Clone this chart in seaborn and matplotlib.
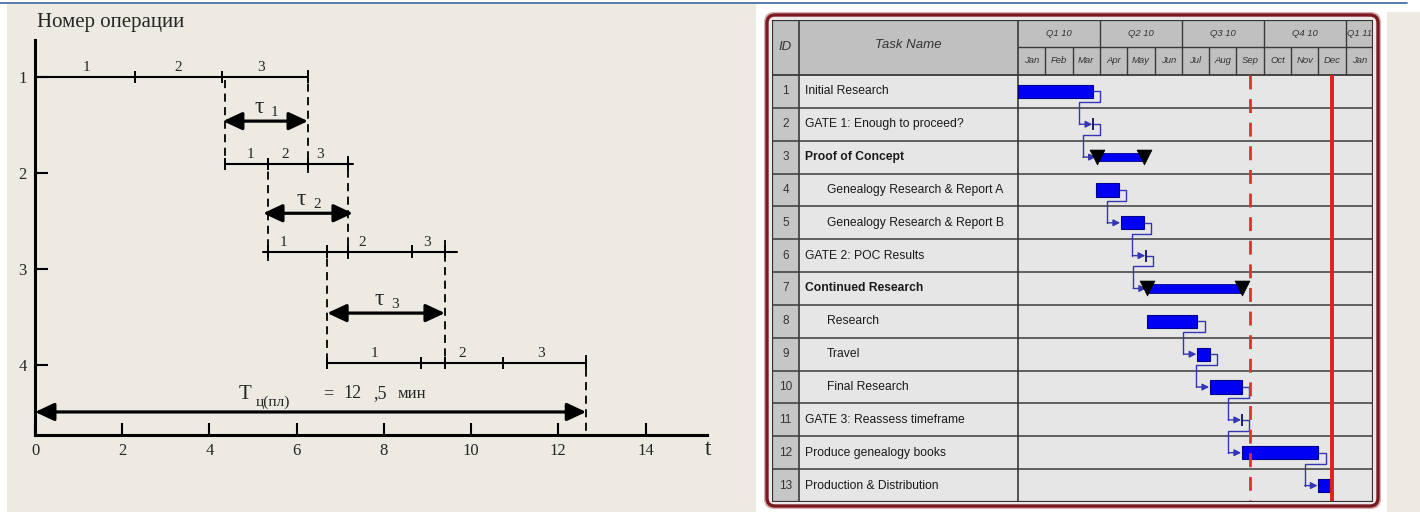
import numpy as np
import pandas as pd
import matplotlib
matplotlib.use("Agg")
import matplotlib.pyplot as plt
from matplotlib.patches import Rectangle, FancyBboxPatch
from matplotlib.lines import Line2D
from matplotlib.transforms import IdentityTransform
import seaborn as sns

# ---------------- left chart: operations on a time axis ----------------
op_names = ["1", "2", "3", "4"]
op_rows = [1.0, 1.906, 2.82, 3.98]
op_start = [0.0, 4.36, 5.23, 6.70]
op_end = [6.26, 7.29, 9.68, 12.64]
op_ticks = [[2.29, 4.29, 6.26],
            [4.36, 5.34, 6.26, 7.18],
            [5.34, 6.70, 7.18, 8.65, 9.40],
            [6.70, 8.85, 9.40, 10.73, 12.64]]
part_x = [[1.17, 3.28, 5.18],
          [4.93, 5.73, 6.54],
          [5.69, 7.50, 8.99],
          [7.78, 9.79, 11.61]]
part_labels = ["1", "2", "3"]

# dashed guides: x, top, bottom
guide_x = [4.36, 6.26, 5.34, 7.18, 6.70, 9.40, 12.64]
guide_top = [1.03, 0.93, 1.84, 1.82, 2.75, 2.70, 3.90]
guide_bot = [1.99, 2.00, 2.93, 2.93, 3.99, 4.00, 4.70]

# tau arrows
tau_y = [1.46, 2.42, 3.46]
tau_from = [4.31, 5.23, 6.70]
tau_to = [6.26, 7.29, 9.40]
tau_sub = ["1", "2", "3"]
cycle_y = 4.49
cycle_value = 12.64

# ---------------- right chart: gantt ----------------
task_ids = list(range(1, 14))
task_names = ["Initial Research", "GATE 1: Enough to proceed?", "Proof of Concept",
              "Genealogy Research & Report A", "Genealogy Research & Report B",
              "GATE 2: POC Results", "Continued Research", "Research", "Travel",
              "Final Research", "GATE 3: Reassess timeframe",
              "Produce genealogy books", "Production & Distribution"]
task_kind = ["task", "gate", "summary", "task", "task", "gate", "summary",
             "task", "task", "task", "gate", "task", "task"]
task_indent = [0, 0, 0, 1, 1, 0, 0, 1, 1, 1, 0, 0, 0]
task_start = [0.0, 2.75, 2.88, 2.86, 3.77, 4.69, 4.72, 4.72, 6.56, 7.03, 8.20, 8.20, 11.00]
task_finish = [2.75, 2.75, 4.60, 3.70, 4.60, 4.69, 8.20, 6.56, 7.03, 8.20, 8.20, 11.00, 11.47]
links = [(1, 2), (2, 3), (4, 5), (5, 6), (6, 7), (8, 9), (9, 10), (10, 11), (11, 12), (12, 13)]
months = ["Jan", "Feb", "Mar", "Apr", "May", "Jun", "Jul", "Aug", "Sep", "Oct", "Nov", "Dec", "Jan"]
quarters = ["Q1 10", "Q2 10", "Q3 10", "Q4 10", "Q1 11"]
quarter_start = [0, 3, 6, 9, 12]
quarter_len = [3, 3, 3, 3, 1]
status_line = 8.5
deadline_line = 11.5

sns.set_theme(style="ticks")
plt.rcParams['font.family'] = ['Liberation Sans', 'DejaVu Sans']
SERIF = ['Liberation Serif', 'DejaVu Serif']

fig = plt.figure(figsize=(14.2, 5.12), dpi=100, facecolor='white')
px = IdentityTransform()
fig.add_artist(Rectangle((7, 0), 749, 508, transform=px, fc='#EDEAE2', ec='none', zorder=-10))
fig.add_artist(Rectangle((1387, 0), 33, 500, transform=px, fc='#EDEAE2', ec='none', zorder=-10))
fig.add_artist(Line2D([0, 1407], [509.5, 509.5], transform=px, color='#4A6EA8', lw=1.3, zorder=-9))

# ================= left panel =================
ax1 = fig.add_axes([35 / 1420, 77 / 512, 672 / 1420, 395 / 512])
ax1.set_facecolor('none')

rows = []
for i in range(len(op_names)):
    rows.append({'t': op_start[i], 'y': op_rows[i], 'op': op_names[i]})
    rows.append({'t': op_end[i], 'y': op_rows[i], 'op': op_names[i]})
ops = pd.DataFrame(rows)
sns.lineplot(data=ops, x='t', y='y', units='op', estimator=None, sort=False,
             color='black', lw=1.5, ax=ax1, legend=False)

for i in range(len(op_names)):
    y = op_rows[i]
    ax1.vlines(op_ticks[i], y - 0.065, y + 0.065, color='black', lw=1.4)
    for lx, lab in zip(part_x[i], part_labels):
        ax1.text(lx, y - 0.1, lab, ha='center', va='center', fontsize=11, family=SERIF)

ax1.vlines(guide_x, guide_top, guide_bot, color='black', lw=1.3, linestyles=(0, (4.5, 3)))

arrow_style = dict(arrowstyle='<|-|>,head_length=0.58,head_width=0.27', lw=2.3, color='black',
                   shrinkA=0, shrinkB=0, mutation_scale=20)
for y, a, b, s in zip(tau_y, tau_from, tau_to, tau_sub):
    ax1.annotate('', xy=(b, y), xytext=(a, y), arrowprops=arrow_style)
    mid = (a + b) / 2
    ax1.text(mid - 0.15, y - 0.14, 'τ', ha='center', va='center', fontsize=17, family=SERIF)
    ax1.text(mid + 0.2, y - 0.09, s, ha='center', va='center', fontsize=11, family=SERIF)
ax1.annotate('', xy=(cycle_value, cycle_y), xytext=(0, cycle_y), arrowprops=arrow_style)
ax1.text(4.82, cycle_y - 0.18, 'T', ha='center', va='center', fontsize=15, family=SERIF)
ax1.text(5.46, cycle_y - 0.1, 'ц(пл)', ha='center', va='center', fontsize=11, family=SERIF)
ax1.text(6.72, cycle_y - 0.19, '=', ha='center', va='center', fontsize=13, family=SERIF)
ax1.text(7.29, cycle_y - 0.19, '12', ha='center', va='center', fontsize=13, family=SERIF)
ax1.text(7.91, cycle_y - 0.19, ',5', ha='center', va='center', fontsize=13, family=SERIF)
ax1.text(8.65, cycle_y - 0.19, 'мин', ha='center', va='center', fontsize=12, family=SERIF)

ax1.set_xlim(0, 15.41)
ax1.set_ylim(4.73, 0.615)
ax1.set_xticks(range(0, 15, 2), [str(v) for v in range(0, 15, 2)], fontsize=12, family=SERIF)
ax1.set_yticks([1, 2, 3, 4], op_names, fontsize=12, family=SERIF)
ax1.tick_params(direction='in', length=9, width=1.5, color='black', pad=6)
ax1.set_xlabel('')
ax1.set_ylabel('')
for side in ['top', 'right']:
    ax1.spines[side].set_visible(False)
for side in ['left', 'bottom']:
    ax1.spines[side].set_linewidth(2.2)
    ax1.spines[side].set_color('black')
ax1.text(15.44, 4.88, 't', ha='center', va='center', fontsize=17, family=SERIF, clip_on=False)
fig.text(37 / 1420, 1 - 22 / 512, 'Номер операции', ha='left', va='center', fontsize=15, family=SERIF)

# ================= right panel (gantt) =================
fig.add_artist(FancyBboxPatch((765, 4), 615, 495, boxstyle="round,pad=0,rounding_size=9",
                              transform=px, fc='none', ec='#D9AFAF', lw=1.5, zorder=-6))
fig.add_artist(FancyBboxPatch((767, 6), 611, 491, boxstyle="round,pad=0,rounding_size=8",
                              transform=px, fc='#ECE6E6', ec='#7A1A20', lw=2.4, zorder=-5))

X_ID, X_TASK, X_END = -9.01, -8.02, 13.0
Y_TOP, Y_MID, Y_BODY, Y_BOT = -1.174, -0.352, 0.5, 13.5
ax2 = fig.add_axes([772 / 1420, 10 / 512, 601 / 1420, 482 / 512])
ax2.set_xlim(X_ID, X_END)
ax2.set_ylim(Y_BOT, Y_TOP)
ax2.axis('off')

ax2.add_patch(Rectangle((X_ID, Y_TOP), X_END - X_ID, Y_BODY - Y_TOP, fc='#C0C0C0', ec='none', zorder=0))
ax2.add_patch(Rectangle((X_ID, Y_BODY), X_TASK - X_ID, Y_BOT - Y_BODY, fc='#C6C6C6', ec='none', zorder=0))
ax2.add_patch(Rectangle((X_TASK, Y_BODY), X_END - X_TASK, Y_BOT - Y_BODY, fc='#E6E6E6', ec='none', zorder=0))

grid_c = '#3A3A3A'
ax2.hlines(np.arange(1.5, 13.5, 1.0), X_ID, X_END, color=grid_c, lw=1.1, zorder=1)
ax2.hlines([Y_BODY], X_ID, X_END, color=grid_c, lw=1.3, zorder=1)
ax2.hlines([Y_MID], 0, X_END, color=grid_c, lw=1.0, zorder=1)
ax2.vlines([X_TASK, 0], Y_TOP, Y_BOT, color=grid_c, lw=1.2, zorder=1)
ax2.vlines(quarter_start[1:], Y_TOP, Y_BODY, color=grid_c, lw=1.0, zorder=1)
ax2.vlines([m for m in range(1, 13) if m % 3 != 0], Y_MID, Y_BODY, color=grid_c, lw=1.0, zorder=1)
ax2.add_patch(Rectangle((X_ID, Y_TOP), X_END - X_ID, Y_BOT - Y_TOP, fc='none', ec='#333333', lw=1.6, zorder=6))

hdr = dict(style='italic', color='#333333', ha='center', va='center')
ax2.text((X_ID + X_TASK) / 2, -0.35, 'ID', fontsize=9.5, **hdr)
ax2.text((X_TASK + 0) / 2, -0.41, 'Task Name', fontsize=9.5, **hdr)
for q, qs, ql in zip(quarters, quarter_start, quarter_len):
    ax2.text(qs + ql / 2, -0.76, q, fontsize=6.8, **hdr)
for i, mo in enumerate(months):
    ax2.text(i + 0.5, 0.07, mo, fontsize=6.8, **hdr)

for i, name in enumerate(task_names):
    r = task_ids[i]
    ax2.text((X_ID + X_TASK) / 2, r, str(r), ha='center', va='center', fontsize=8.5, color='#333333')
    ax2.text(-7.8 + 0.8 * task_indent[i], r, name, ha='left', va='center', fontsize=8.7, color='#1A1A1A',
             fontweight='bold' if task_kind[i] == 'summary' else 'normal')

# connectors
link_c = '#3535B5'
for s, d in links:
    sx, sy = task_finish[s - 1], s
    dx, dy = task_start[d - 1], d
    ax2.plot([sx, sx + 0.27, sx + 0.27, dx - 0.5, dx - 0.5],
             [sy, sy, sy + 0.33, sy + 0.33, dy], color=link_c, lw=1.0, zorder=2)
    ax2.annotate('', xy=(dx - 0.03, dy), xytext=(dx - 0.5, dy),
                 arrowprops=dict(arrowstyle='-|>', color=link_c, lw=1.0, mutation_scale=10,
                                 shrinkA=0, shrinkB=0), zorder=2)

gantt = pd.DataFrame({'row': task_ids, 'kind': task_kind,
                      'start': task_start, 'finish': task_finish})
normal = gantt[gantt.kind == 'task']
ax2.barh(normal.row, normal.finish - normal.start, left=normal.start, height=0.4,
         color='#0000F2', edgecolor='#00008B', lw=0.8, zorder=3)
summ = gantt[gantt.kind == 'summary']
ax2.barh(summ.row, summ.finish - summ.start, left=summ.start, height=0.26,
         color='#0000F2', edgecolor='#00008B', lw=0.6, zorder=3)
tri = pd.DataFrame({'x': list(summ.start) + list(summ.finish), 'y': list(summ.row) * 2})
sns.scatterplot(data=tri, x='x', y='y', marker='v', s=115, color='black', edgecolor='black',
                linewidth=0.5, ax=ax2, zorder=4, legend=False)
gates = gantt[gantt.kind == 'gate']
ax2.vlines(gates.start, gates.row - 0.18, gates.row + 0.18, color='#101060', lw=1.3, zorder=4)

ax2.vlines([status_line], Y_BODY, Y_BOT, color='#E03030', lw=2.0, linestyles=(0, (5, 3.5)), zorder=5)
ax2.vlines([deadline_line], Y_BODY, Y_BOT, color='#E02020', lw=2.8, zorder=5)

ax2.set_xlim(X_ID, X_END)
ax2.set_ylim(Y_BOT, Y_TOP)

fig.savefig('out.png', dpi=100, facecolor=fig.get_facecolor())
